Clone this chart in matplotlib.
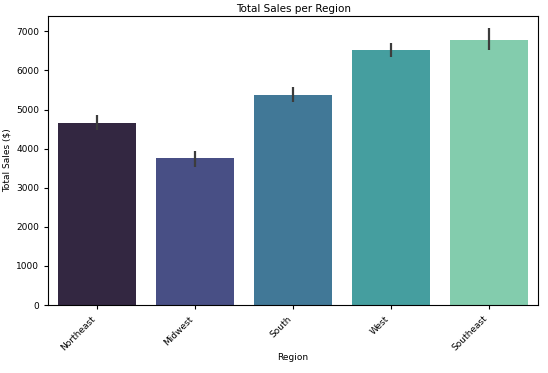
import numpy as np
import matplotlib
matplotlib.use("Agg")
import matplotlib.pyplot as plt
import seaborn as sns

# values
regions = ["Northeast", "Midwest", "South", "West", "Southeast"]
sales = [4650, 3750, 5365, 6510, 6770]
err_low = [4470, 3525, 5185, 6335, 6515]
err_high = [4855, 3935, 5570, 6695, 7075]

colors = sns.color_palette("mako", len(regions), desat=0.78)

fig = plt.figure(figsize=(5.48, 3.73), dpi=100)
ax = fig.add_axes([0.088, 0.182, 0.894, 0.775])

x = np.arange(len(regions))
ax.bar(x, sales, width=0.8, color=colors)
yerr = [np.array(sales) - np.array(err_low), np.array(err_high) - np.array(sales)]
ax.errorbar(x, sales, yerr=yerr, fmt="none", ecolor="#3c3c3c", elinewidth=1.6, capsize=0)

ax.set_xlim(-0.5, len(regions) - 0.5)
ax.set_ylim(0, 7390)
ax.set_xticks(x)
ax.set_xticklabels(regions, rotation=45, ha="right", fontsize=6.5)
ax.tick_params(axis="y", labelsize=6.5)
ax.tick_params(length=3, width=0.8)
ax.set_title("Total Sales per Region", fontsize=7.5, pad=3)
ax.set_xlabel("Region", fontsize=6.5, labelpad=0)
ax.set_ylabel("Total Sales ($)", fontsize=6.5, labelpad=3)

plt.savefig("out.png", dpi=100)
